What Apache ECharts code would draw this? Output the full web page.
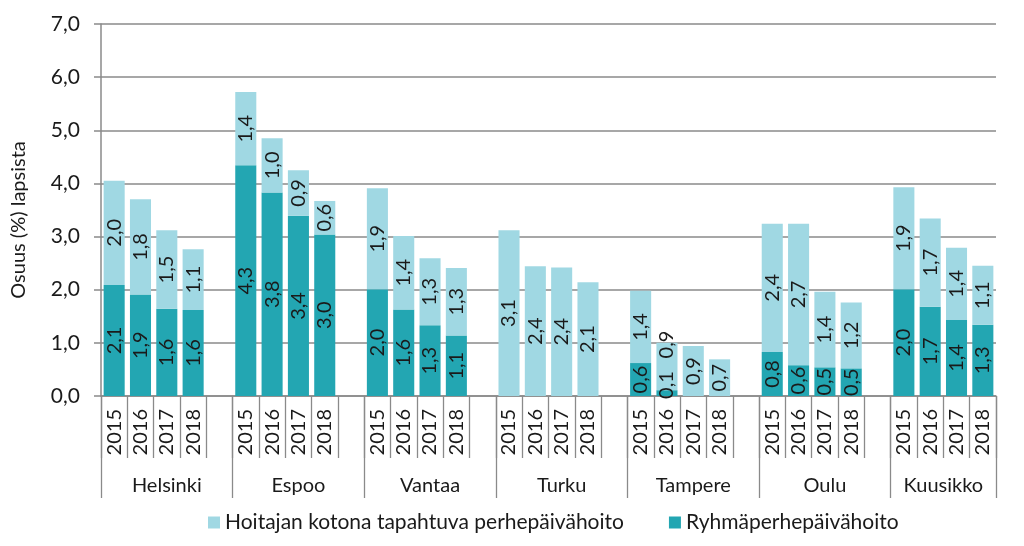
<!DOCTYPE html>
<html>
<head>
<meta charset="utf-8">
<script src="https://cdn.jsdelivr.net/npm/echarts@6/dist/echarts.min.js"></script>
<style>
html,body{margin:0;padding:0;background:#fff;}
#chart{width:1024px;height:546px;}
</style>
</head>
<body>
<div id="chart"></div>
<script>
// ---- data ----
const cities = ['Helsinki', 'Espoo', 'Vantaa', 'Turku', 'Tampere', 'Oulu', 'Kuusikko'];
const years = ['2015', '2016', '2017', '2018'];
const seriesNames = ['Hoitajan kotona tapahtuva perhepäivähoito', 'Ryhmäperhepäivähoito'];
// Ryhmäperhepäivähoito, per city, years 2015-2018
const ryhmaValues = [
  [2.09, 1.91, 1.64, 1.62],
  [4.34, 3.83, 3.39, 3.04],
  [2.01, 1.63, 1.33, 1.14],
  [0, 0, 0, 0],
  [0.62, 0.11, 0, 0],
  [0.83, 0.58, 0.54, 0.52],
  [2.01, 1.68, 1.43, 1.34]
];
// Hoitajan kotona tapahtuva perhepäivähoito, per city, years 2015-2018
const kotonaValues = [
  [1.96, 1.79, 1.48, 1.14],
  [1.38, 1.02, 0.86, 0.63],
  [1.90, 1.38, 1.26, 1.27],
  [3.12, 2.44, 2.42, 2.14],
  [1.36, 0.89, 0.94, 0.69],
  [2.41, 2.66, 1.42, 1.24],
  [1.92, 1.66, 1.36, 1.11]
];
const yTicks = [0, 1, 2, 3, 4, 5, 6, 7];

// ---- build ----
const xData = [], darkData = [], lightData = [];
cities.forEach((c, ci) => {
  years.forEach((y, yi) => {
    xData.push(y);
    const d = ryhmaValues[ci][yi], l = kotonaValues[ci][yi];
    const small = d > 0 && d < 0.3;
    // labels are rotated, so offset is along the text direction (upwards on screen)
    darkData.push(small ? { value: d, label: { offset: [8, 0] } } : d);
    lightData.push(small ? { value: l, label: { offset: [22, 0] } } : l);
  });
  if (ci < cities.length - 1) { xData.push(''); darkData.push('-'); lightData.push('-'); }
});
// city axis in half-slot points
const cityAxisData = new Array(xData.length * 2 + 1).fill('');
const boundaries = new Set();
let pos = 0;
cities.forEach((c, ci) => {
  const slots = years.length + (ci < cities.length - 1 ? 1 : 0);
  boundaries.add(2 * pos);
  cityAxisData[2 * pos + slots] = c;
  pos += slots;
});
boundaries.add(2 * pos);

const FONT = 'Lato';
const TXT = '#1a1a1a';
const GRID = '#8a8a8a';
const fmt = v => v.toFixed(1).replace('.', ',');
const labelFmt = p => (typeof p.value === 'number' && p.value > 0) ? fmt(p.value) : '';

const chart = echarts.init(document.getElementById('chart'));
chart.setOption({
  animation: false,
  textStyle: { fontFamily: FONT },
  grid: { left: 101, right: 28, top: 24, bottom: 150, containLabel: false },
  legend: {
    data: seriesNames,
    left: 203, top: 507,
    icon: 'rect', itemWidth: 12, itemHeight: 12, itemGap: 45,
    textStyle: { fontFamily: FONT, fontSize: 21, color: TXT }
  },
  xAxis: [
    {
      type: 'category', data: xData, position: 'bottom',
      axisLine: { show: true, lineStyle: { color: GRID, width: 1.5 } },
      axisTick: { show: true, interval: 0, length: 62, lineStyle: { color: GRID, width: 1.3 } },
      axisLabel: { interval: 0, rotate: 90, margin: 13, fontFamily: FONT, fontSize: 20, color: TXT }
    },
    {
      type: 'category', data: cityAxisData, position: 'bottom', boundaryGap: false,
      axisLine: { show: false },
      axisTick: { show: true, length: 102, interval: (i) => boundaries.has(i), lineStyle: { color: GRID, width: 1.3 } },
      axisLabel: { interval: (i, v) => v !== '', margin: 80, fontFamily: FONT, fontSize: 20, color: TXT }
    }
  ],
  yAxis: {
    type: 'value', min: yTicks[0], max: yTicks[yTicks.length - 1], interval: 1,
    name: 'Osuus (%) lapsista', nameLocation: 'middle', nameGap: 72,
    nameTextStyle: { fontFamily: FONT, fontSize: 20, color: TXT, padding: [0, 20, 0, 0] },
    axisLine: { show: true, lineStyle: { color: GRID, width: 1.5 } },
    axisTick: { show: true, length: 7, lineStyle: { color: GRID, width: 1.5 } },
    axisLabel: { formatter: v => fmt(v), margin: 21, fontFamily: FONT, fontSize: 21, color: TXT },
    splitLine: { show: true, lineStyle: { color: GRID, width: 1.5 } }
  },
  series: [
    {
      name: seriesNames[1], type: 'bar', stack: 'total', data: darkData,
      barCategoryGap: '20%', itemStyle: { color: '#23A6B2' },
      label: { show: true, position: 'inside', rotate: 90, formatter: labelFmt, fontFamily: FONT, fontSize: 20, color: TXT }
    },
    {
      name: seriesNames[0], type: 'bar', stack: 'total', data: lightData,
      barCategoryGap: '20%', itemStyle: { color: '#A0D8E3' },
      label: { show: true, position: 'inside', rotate: 90, formatter: labelFmt, fontFamily: FONT, fontSize: 20, color: TXT }
    }
  ]
});
</script>
</body>
</html>
